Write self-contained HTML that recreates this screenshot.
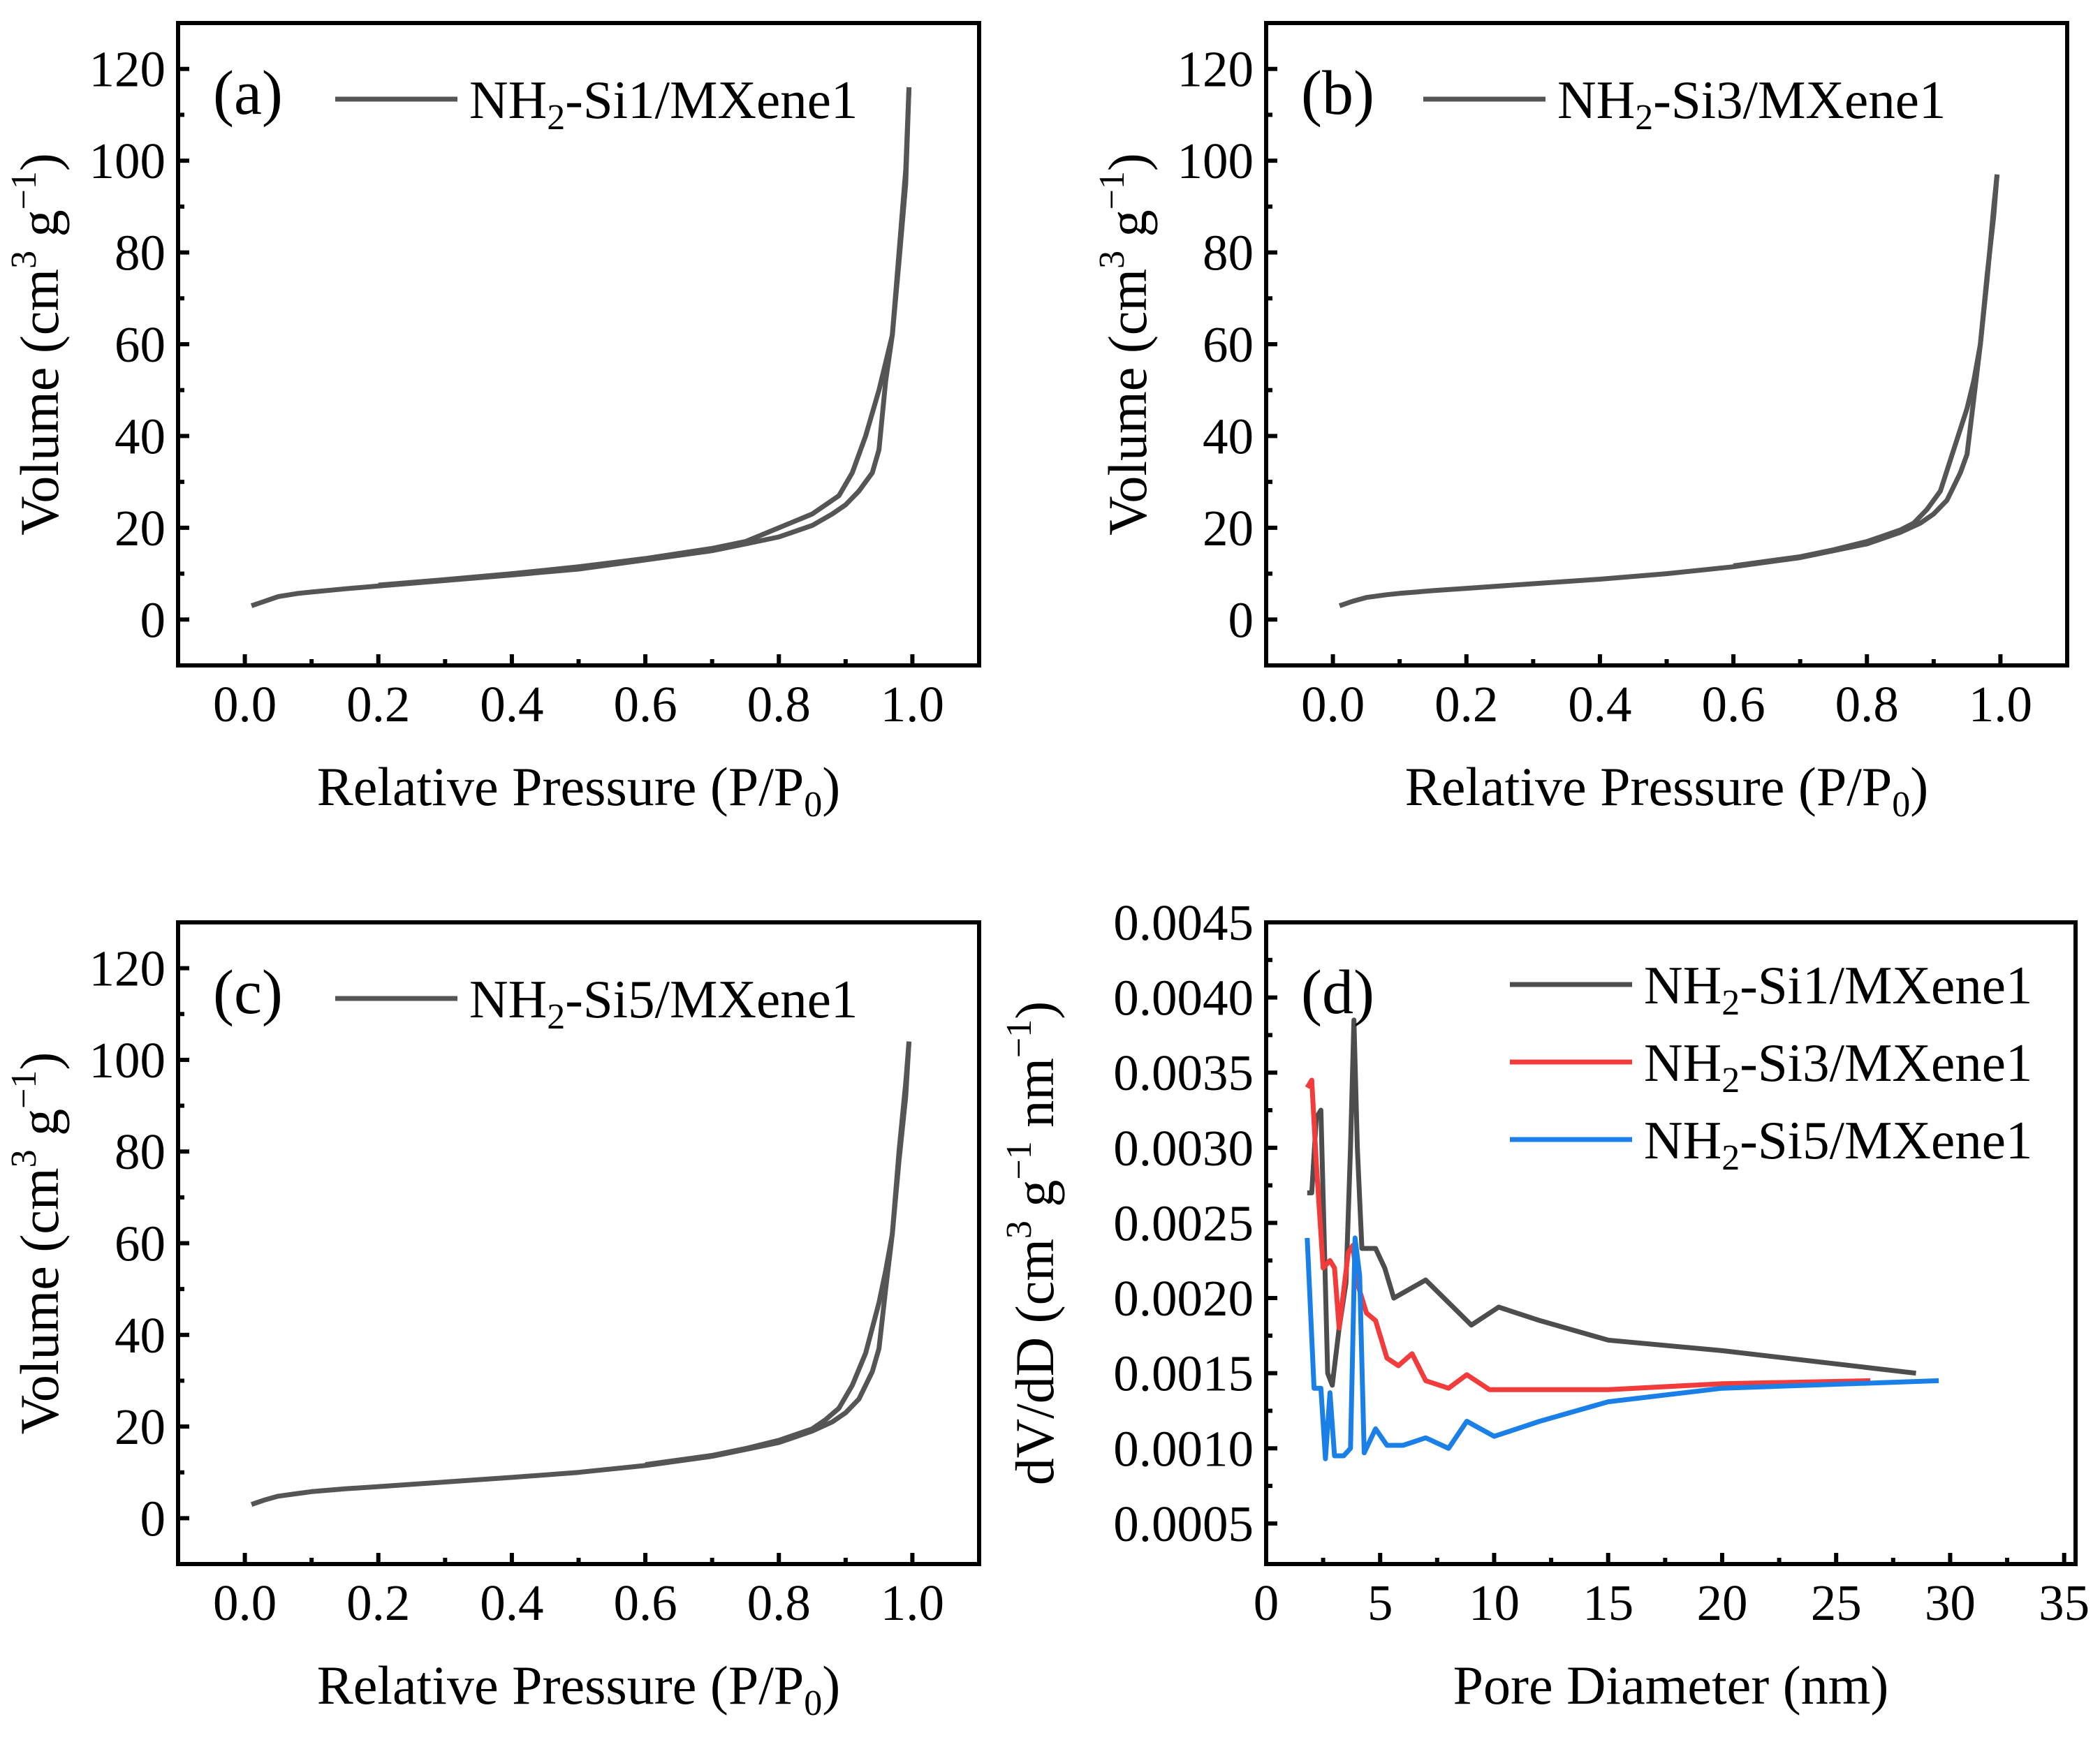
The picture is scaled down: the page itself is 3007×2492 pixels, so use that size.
<!DOCTYPE html>
<html><head><meta charset="utf-8"><style>
html,body{margin:0;padding:0;background:#fff}
svg{display:block;font-family:"Liberation Serif",serif}
</style></head><body>
<svg id="fig" width="3007" height="2492" viewBox="0 0 3007 2492" xmlns="http://www.w3.org/2000/svg"></svg>
<script>
// ---- data: isotherms (P/P0, volume) ----
const isoP_ads_a = [0.01,0.03,0.05,0.08,0.1,0.15,0.2,0.3,0.4,0.5,0.6,0.7,0.75,0.8,0.85,0.88,0.9,0.92,0.94,0.95,0.96,0.97,0.98,0.99,0.995];
const isoV_ads_a = [3,4,5,5.7,6,6.7,7.3,8.5,9.7,11,13,15,16.5,18,20.5,23,25,28,32,37,52,62,80,98,116];
const isoP_des_a = [0.995,0.99,0.98,0.97,0.96,0.95,0.93,0.91,0.89,0.87,0.85,0.8,0.75,0.7,0.6,0.5,0.4,0.3,0.2];
const isoV_des_a = [116,95,78,62,56,50,40,32,27,25,23,20,17,15.5,13.3,11.5,10,8.7,7.5];

const isoP_ads_b = [0.01,0.03,0.05,0.08,0.1,0.15,0.2,0.3,0.4,0.5,0.6,0.7,0.75,0.8,0.85,0.88,0.9,0.92,0.94,0.95,0.96,0.97,0.98,0.99,0.995];
const isoV_ads_b = [3,4,4.8,5.4,5.7,6.3,6.8,7.8,8.8,10,11.5,13.5,15,16.5,19,21,23,26,32,36,48,60,75,88,97];
const isoP_des_b = [0.995,0.99,0.98,0.97,0.96,0.95,0.93,0.91,0.89,0.87,0.85,0.8,0.75,0.7,0.6];
const isoV_des_b = [97,90,74,60,52,46,37,28,24,21,19.5,17,15.2,13.7,11.7];

const isoP_ads_c = [0.01,0.03,0.05,0.08,0.1,0.15,0.2,0.3,0.4,0.5,0.6,0.7,0.75,0.8,0.85,0.88,0.9,0.92,0.94,0.95,0.96,0.97,0.98,0.99,0.995];
const isoV_ads_c = [3,4,4.8,5.4,5.8,6.4,6.9,7.9,8.9,10,11.5,13.5,15,16.5,19,21,23,26,32,37,50,62,80,95,104];
const isoP_des_c = [0.995,0.99,0.98,0.97,0.96,0.95,0.93,0.91,0.89,0.87,0.85,0.8,0.75,0.7,0.6];
const isoV_des_c = [104,92,78,62,54,47,36,29,24,21.5,19.5,17,15.2,13.7,11.7];

// ---- data: pore size distribution ----
const psdX_1 = [1.8,2.0,2.2,2.4,2.7,2.9,3.2,3.5,3.7,3.85,4.0,4.2,4.8,5.2,5.6,7.0,9.0,10.2,12,15,20,28.5];
const psdY_1 = [0.0027,0.0027,0.0032,0.00325,0.0015,0.00142,0.0018,0.0021,0.003,0.00385,0.003,0.00233,0.00233,0.0022,0.002,0.00212,0.00182,0.00194,0.00185,0.00172,0.00165,0.0015];
const psdX_3 = [1.8,2.0,2.2,2.5,2.8,3.0,3.2,3.6,3.8,4.0,4.4,4.8,5.3,5.8,6.4,7.0,8.0,8.8,9.8,15,20,26.5];
const psdY_3 = [0.0034,0.00345,0.0029,0.0022,0.00225,0.0022,0.0018,0.0023,0.00235,0.0021,0.0019,0.00185,0.0016,0.00155,0.00163,0.00145,0.0014,0.00149,0.00139,0.00139,0.00143,0.00145];
const psdX_5 = [1.8,2.1,2.4,2.6,2.8,3.0,3.4,3.7,3.9,4.1,4.3,4.8,5.3,6,7,8,8.8,10,12,15,20,29.5];
const psdY_5 = [0.0024,0.0014,0.0014,0.00093,0.00137,0.00095,0.00095,0.001,0.0024,0.00215,0.00097,0.00113,0.00102,0.00102,0.00107,0.001,0.00118,0.00108,0.00118,0.00131,0.0014,0.00145];

const isoXTicks = [0,0.2,0.4,0.6,0.8,1.0];
const isoXTickLabels = ["0.0","0.2","0.4","0.6","0.8","1.0"];
const isoYTicks = [0,20,40,60,80,100,120];
const psdXTicks = [0,5,10,15,20,25,30,35];
const psdYTicks = [0.0005,0.001,0.0015,0.002,0.0025,0.003,0.0035,0.004,0.0045];

const NS="http://www.w3.org/2000/svg";
const svg=document.getElementById('fig');
function el(tag,attrs,parent){const e=document.createElementNS(NS,tag);for(const k in attrs)e.setAttribute(k,attrs[k]);(parent||svg).appendChild(e);return e;}
function lin(d0,d1,r0,r1){return v=>r0+(v-d0)/(d1-d0)*(r1-r0);}

function panel(o){
  const g=el('g',{});
  
  
  const sx=lin(o.xd[0],o.xd[1],o.L,o.R), sy=lin(o.yd[0],o.yd[1],o.B,o.T);
  o.xt.forEach((v,i)=>{
    const x=sx(v);
    const t=el('line',{x1:x,x2:x,y1:o.B,y2:o.B-16,stroke:'#000','stroke-width':6},g);
    
    
    if(i<o.xt.length-1){const xm=sx((v+o.xt[i+1])/2);
      const m=el('line',{x1:xm,x2:xm,y1:o.B,y2:o.B-9,stroke:'#000','stroke-width':6},g);
      
      }
    const lb=el('text',{x:x,y:o.B+80,'font-size':73,'text-anchor':'middle'},g);
    
    
    lb.textContent=o.xl[i];
  });
  o.yt.forEach((v,i)=>{
    const y=sy(v);
    const t=el('line',{x1:o.L,x2:o.L+16,y1:y,y2:y,stroke:'#000','stroke-width':6},g);
    
    
    if(i<o.yt.length-1){const ym=sy((v+o.yt[i+1])/2);
      const m=el('line',{x1:o.L,x2:o.L+9,y1:ym,y2:ym,stroke:'#000','stroke-width':6},g);
      
      }
    const lb=el('text',{x:o.L-18,y:y+25,'font-size':73,'text-anchor':'end'},g);
    
    
    lb.textContent=o.yl[i];
  });
  o.series.forEach(s=>{
    const pts=s.x.map((v,i)=>sx(v).toFixed(1)+','+sy(s.y[i]).toFixed(1)).join(' ');
    const p=el('polyline',{points:pts,fill:'none',stroke:s.c,'stroke-width':7,'stroke-linejoin':'round'},g);
    
    
  });
  const fr=el('rect',{x:o.L,y:o.T,width:o.R-o.L,height:o.B-o.T,fill:'none',stroke:'#000','stroke-width':6},g);
  
  
  const pl=el('text',{x:o.L+50,y:o.T+130,'font-size':90},g);
  
  
  pl.textContent=o.tag;
  o.leg.forEach((lg,i)=>{
    const y=o.legY+i*111;
    const ln=el('line',{x1:o.legX,x2:o.legX+175,y1:y,y2:y,stroke:lg.c,'stroke-width':7},g);
    
    
    const tx=el('text',{x:o.legX+192,y:y+27,'font-size':77},g);
    
    
    tx.innerHTML='NH<tspan dy="16" font-size="52">2</tspan><tspan dy="-16">-'+lg.t+'/MXene1</tspan>';
  });
  const xt=el('text',{x:(o.L+o.R)/2,y:o.B+200,'font-size':78,'text-anchor':'middle'},g);
  
  
  xt.innerHTML=o.xtitle;
  const yx=o.ytx, yy=(o.T+o.B)/2;
  const yt=el('text',{x:yx,y:yy,'font-size':78,'text-anchor':'middle',transform:`rotate(-90 ${yx} ${yy})`},g);
  
  
  yt.innerHTML=o.ytitle;
}
const gray='#555555';
const pTitle='Relative Pressure (P/P<tspan dy="16" font-size="52">0</tspan><tspan dy="-16">)</tspan>';
const vTitle='Volume (cm<tspan dy="-32" font-size="52">3</tspan><tspan dy="32"> g</tspan><tspan dy="-32" font-size="52">−1</tspan><tspan dy="32">)</tspan>';
const isoYL=isoYTicks.map(String);
function iso(name,L,R,T,B,tag,lab,xa,ya,xd,yd){
  panel({name,L,R,T,B,xd:[-0.1,1.1],yd:[-10,130],xt:isoXTicks,xl:isoXTickLabels,yt:isoYTicks,yl:isoYL,
    series:[{x:xa,y:ya,c:gray,n:'adsorption-curve'},{x:xd,y:yd,c:gray,n:'desorption-curve'}],
    tag,leg:[{t:lab,c:gray}],legX:L+225,legY:T+109,xtitle:pTitle,ytitle:vTitle,ytx:L-172});
}
iso('panel-a',255,1402,33,953,'(a)','Si1',isoP_ads_a,isoV_ads_a,isoP_des_a,isoV_des_a);
iso('panel-b',1813,2960,33,953,'(b)','Si3',isoP_ads_b,isoV_ads_b,isoP_des_b,isoV_des_b);
iso('panel-c',255,1402,1321,2240,'(c)','Si5',isoP_ads_c,isoV_ads_c,isoP_des_c,isoV_des_c);
panel({name:'panel-d',L:1813,R:2972,T:1321,B:2240,xd:[0,35.5],yd:[0.00023,0.0045],
  xt:psdXTicks,xl:psdXTicks.map(String),yt:psdYTicks,yl:psdYTicks.map(v=>v.toFixed(4)),
  series:[{x:psdX_1,y:psdY_1,c:'#4d4d4d',n:'psd-si1-line'},{x:psdX_3,y:psdY_3,c:'#f23c3c',n:'psd-si3-line'},{x:psdX_5,y:psdY_5,c:'#1a80e8',n:'psd-si5-line'}],
  tag:'(d)',leg:[{t:'Si1',c:'#4d4d4d'},{t:'Si3',c:'#f23c3c'},{t:'Si5',c:'#1a80e8'}],legX:2162,legY:1410,
  xtitle:'Pore Diameter (nm)',
  ytitle:'dV/dD (cm<tspan dy="-32" font-size="52">3</tspan><tspan dy="32"> g</tspan><tspan dy="-32" font-size="52">−1</tspan><tspan dy="32"> nm</tspan><tspan dy="-32" font-size="52">−1</tspan><tspan dy="32">)</tspan>',
  ytx:1508});
</script>
</body></html>
